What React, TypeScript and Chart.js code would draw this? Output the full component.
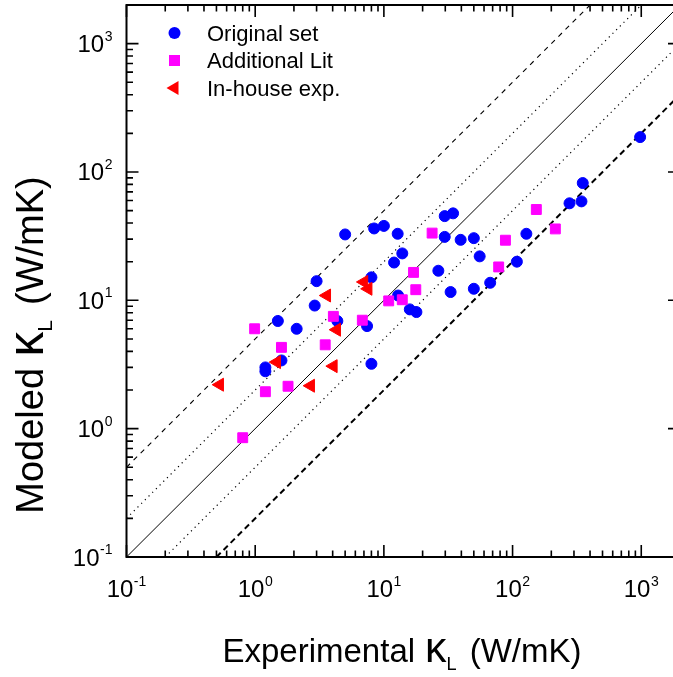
import { useEffect, useRef } from 'react';
import { Chart, registerables } from 'chart.js';

Chart.register(...registerables);

const FONT = '"Liberation Sans", Arial, Helvetica, sans-serif';

// ---- data (experimental vs modeled thermal conductivity, W/mK) ----
const originalExpX = [980, 351, 277, 343, 128, 108, 67, 50, 33, 26.5, 55.5, 50, 39.5, 29.7, 29.7, 34.5, 10, 12.8, 13.9, 12, 12.9, 15.9, 17.9, 5.0, 8.4, 8.0, 3.0, 2.9, 1.5, 2.1, 4.35, 7.4, 1.6, 1.2, 1.2, 8.0];
const originalModY = [187, 82, 57, 59, 33, 20, 13.7, 12.3, 11.6, 17, 22, 30.5, 29.6, 31.2, 45.3, 47.6, 38, 33, 23.2, 19.7, 10.9, 8.5, 8.1, 32.6, 36.3, 15.1, 14.1, 9.1, 6.9, 6.0, 6.9, 6.3, 3.4, 3.0, 2.8, 3.2];

const addLitExpX = [153, 215, 88, 78, 23.7, 17, 17.7, 10.9, 13.9, 0.99, 1.6, 4.05, 6.8, 3.5, 1.2, 1.8, 0.8];
const addLitModY = [51, 36, 29.4, 18.2, 33.4, 16.5, 12.1, 9.9, 10.1, 6.0, 4.3, 7.5, 7.0, 4.5, 1.94, 2.14, 0.85];

const inHouseExpX = [7.0, 7.55, 3.6, 4.3, 1.47, 4.05, 2.7, 0.53];
const inHouseModY = [13.9, 12.3, 10.9, 5.9, 3.3, 3.07, 2.16, 2.2];

const seriesLabels = ['Original set', 'Additional Lit', 'In-house exp.'];

// guide lines: parity, factor 2 and factor 5
const parityLine = [{ x: 0.1, y: 0.1 }, { x: 2000, y: 2000 }];
const factor2Upper = [{ x: 0.1, y: 0.2 }, { x: 1000, y: 2000 }];
const factor2Lower = [{ x: 0.2, y: 0.1 }, { x: 2000, y: 1000 }];
const factor5Upper = [{ x: 0.1, y: 0.5 }, { x: 400, y: 2000 }];
const factor5Lower = [{ x: 0.5, y: 0.1 }, { x: 2000, y: 400 }];

// axes
const AXIS_MIN = 0.1;
const AXIS_MAX = 2000;
const decadeTicks = [0.1, 1, 10, 100, 1000];
const decadeExponents = ['-1', '0', '1', '2', '3'];
const minorMultipliers = [2, 3, 4, 5, 6, 7, 8, 9];

const xTitlePrefix = 'Experimental';
const yTitlePrefix = 'Modeled';
const unitText = '(W/mK)';

function drawPower(ctx: CanvasRenderingContext2D, exp: string, x: number, y: number, align: 'center' | 'right') {
  ctx.font = `24px ${FONT}`;
  const wb = ctx.measureText('10').width;
  ctx.font = `14px ${FONT}`;
  const we = ctx.measureText(exp).width;
  const total = wb + we + 0.5;
  const sx = align === 'center' ? x - total / 2 : x - total;
  ctx.textAlign = 'left';
  ctx.textBaseline = 'alphabetic';
  ctx.font = `24px ${FONT}`;
  ctx.fillText('10', sx, y);
  ctx.font = `14px ${FONT}`;
  ctx.fillText(exp, sx + wb + 0.5, y - 11.5);
}

function drawKappaTitle(ctx: CanvasRenderingContext2D, prefix: string, cx: number, baseline: number, size: number) {
  const parts = [
    { t: prefix, f: size, dy: 0, gap: size * 0.3 },
    { t: 'κ', f: size * 1.3, dy: 0, gap: 0 },
    { t: 'L', f: size * 0.55, dy: size * 0.25, gap: size * 0.4 },
    { t: unitText, f: size, dy: 0, gap: 0 },
  ];
  let total = 0;
  const widths = parts.map((p) => {
    ctx.font = `${p.f}px ${FONT}`;
    const w = ctx.measureText(p.t).width + p.gap;
    total += w;
    return w;
  });
  let x = cx - total / 2;
  ctx.textAlign = 'left';
  ctx.textBaseline = 'alphabetic';
  parts.forEach((p, i) => {
    ctx.font = `${p.f}px ${FONT}`;
    ctx.fillText(p.t, x, baseline + p.dy);
    x += widths[i];
  });
}

function drawMarker(ctx: CanvasRenderingContext2D, style: string, x: number, y: number, color: string) {
  ctx.fillStyle = color;
  ctx.beginPath();
  if (style === 'circle') {
    ctx.arc(x, y, 6, 0, Math.PI * 2);
  } else if (style === 'rect') {
    ctx.rect(x - 5.5, y - 5.5, 11, 11);
  } else {
    const r = 8;
    ctx.moveTo(x - r, y);
    ctx.lineTo(x + r / 2, y - r * 0.866);
    ctx.lineTo(x + r / 2, y + r * 0.866);
    ctx.closePath();
  }
  ctx.fill();
}

const framePlugin = {
  id: 'frameAndLabels',
  afterDraw(chart: any) {
    const { ctx, chartArea: a } = chart;
    const xs = chart.scales.x;
    const ys = chart.scales.y;
    ctx.save();

    // inward tick marks on all four sides
    const ticks: [number, boolean][] = [];
    decadeTicks.forEach((d) => {
      ticks.push([d, true]);
      minorMultipliers.forEach((m) => {
        if (d * m <= AXIS_MAX * 1.0001) ticks.push([d * m, false]);
      });
    });
    ctx.strokeStyle = '#000';
    ctx.lineWidth = 1.6;
    ctx.beginPath();
    for (const [v, major] of ticks) {
      const len = major ? 12 : 6.5;
      const px = xs.getPixelForValue(v);
      ctx.moveTo(px, a.bottom);
      ctx.lineTo(px, a.bottom - len);
      ctx.moveTo(px, a.top);
      ctx.lineTo(px, a.top + len);
      const py = ys.getPixelForValue(v);
      ctx.moveTo(a.left, py);
      ctx.lineTo(a.left + len, py);
      ctx.moveTo(a.right, py);
      ctx.lineTo(a.right - len, py);
    }
    ctx.stroke();

    // frame
    ctx.lineWidth = 2;
    ctx.strokeRect(a.left, a.top, a.right - a.left, a.bottom - a.top);

    // tick labels
    ctx.fillStyle = '#000';
    decadeTicks.forEach((d, i) => {
      drawPower(ctx, decadeExponents[i], xs.getPixelForValue(d), a.bottom + 40, 'center');
      drawPower(ctx, decadeExponents[i], a.left - 14, ys.getPixelForValue(d) + 8.5, 'right');
    });

    // axis titles
    ctx.fillStyle = '#000';
    drawKappaTitle(ctx, xTitlePrefix, 402, 662, 33);
    ctx.save();
    ctx.translate(29 + 0.716 * 38 / 2, 345);
    ctx.rotate(-Math.PI / 2);
    drawKappaTitle(ctx, yTitlePrefix, 0, 0, 38);
    ctx.restore();

    // legend inside plot area
    const datasets = chart.data.datasets.slice(0, 3);
    datasets.forEach((ds: any, i: number) => {
      const yRow = a.top + 28 + i * 27.5;
      drawMarker(ctx, ds.pointStyle, a.left + 48, yRow, ds.pointBackgroundColor);
      ctx.fillStyle = '#000';
      ctx.font = `22px ${FONT}`;
      ctx.textAlign = 'left';
      ctx.textBaseline = 'alphabetic';
      ctx.fillText(ds.label, a.left + 80.5, yRow + 7.5);
    });

    ctx.restore();
  },
};

function toPoints(xs: number[], ys: number[]) {
  return xs.map((x, i) => ({ x, y: ys[i] }));
}

function guide(label: string, data: { x: number; y: number }[], dash: number[], width: number) {
  return {
    label,
    data,
    showLine: true,
    pointRadius: 0,
    borderColor: '#000',
    backgroundColor: '#000',
    borderWidth: width,
    borderDash: dash,
    order: 10,
  };
}

export default function App() {
  const canvasRef = useRef<HTMLCanvasElement>(null);

  useEffect(() => {
    const canvas = canvasRef.current;
    if (!canvas) return;
    const chart = new Chart(canvas, {
      type: 'scatter',
      data: {
        datasets: [
          {
            label: seriesLabels[0],
            data: toPoints(originalExpX, originalModY),
            pointStyle: 'circle',
            pointRadius: 5.5,
            pointBorderWidth: 1,
            pointBackgroundColor: '#0000FF',
            pointBorderColor: '#0000FF',
            backgroundColor: '#0000FF',
            borderColor: '#0000FF',
            order: 3,
          },
          {
            label: seriesLabels[1],
            data: toPoints(addLitExpX, addLitModY),
            pointStyle: 'rect',
            pointRadius: 7,
            pointBorderWidth: 1,
            pointBackgroundColor: '#FF00FF',
            pointBorderColor: '#FF00FF',
            backgroundColor: '#FF00FF',
            borderColor: '#FF00FF',
            order: 2,
          },
          {
            label: seriesLabels[2],
            data: toPoints(inHouseExpX, inHouseModY),
            pointStyle: 'triangle',
            pointRotation: -90,
            pointRadius: 7.5,
            pointBorderWidth: 1,
            pointBackgroundColor: '#FF0000',
            pointBorderColor: '#FF0000',
            backgroundColor: '#FF0000',
            borderColor: '#FF0000',
            order: 1,
          },
          guide('y = x', parityLine, [], 1),
          guide('y = 2x', factor2Upper, [1.2, 4], 1.2),
          guide('y = x/2', factor2Lower, [1.2, 4], 1.2),
          guide('y = 5x', factor5Upper, [5, 5], 1.1),
          guide('y = x/5', factor5Lower, [6, 4], 2),
        ] as any,
      },
      options: {
        animation: false,
        responsive: false,
        devicePixelRatio: 1,
        events: [],
        layout: { padding: { top: 5, right: 20, left: 0, bottom: 0 }, autoPadding: false },
        plugins: {
          legend: { display: false },
          tooltip: { enabled: false },
          title: { display: false },
        },
        scales: {
          x: {
            type: 'logarithmic',
            min: AXIS_MIN,
            max: AXIS_MAX,
            grid: { display: false, drawTicks: false },
            border: { display: false },
            ticks: { display: false },
            afterFit: (s: any) => {
              s.height = 120;
            },
          },
          y: {
            type: 'logarithmic',
            min: AXIS_MIN,
            max: AXIS_MAX,
            grid: { display: false, drawTicks: false },
            border: { display: false },
            ticks: { display: false },
            afterFit: (s: any) => {
              s.width = 126.5;
            },
          },
        },
      } as any,
      plugins: [framePlugin],
    });
    return () => chart.destroy();
  }, []);

  return (
    <div style={{ position: 'fixed', left: 0, top: 0, width: 700, height: 677, background: '#fff', overflow: 'hidden' }}>
      <canvas ref={canvasRef} width={700} height={677} style={{ display: 'block', width: 700, height: 677 }} />
    </div>
  );
}
